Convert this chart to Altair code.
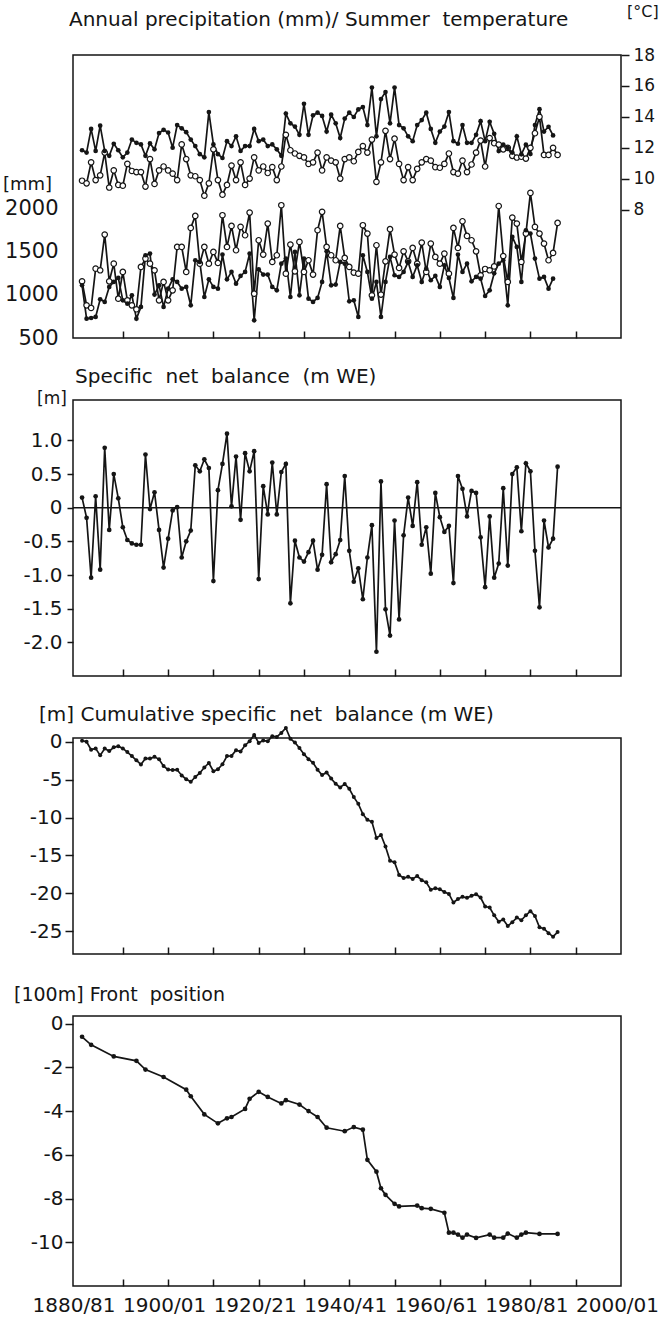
import altair as alt
import pandas as pd

FONT = "DejaVu Sans"
INK = "#151515"

years = list(range(1881, 1987))

# summer temperature (deg C), filled dots
temp_filled = [11.84, 11.69, 13.22, 11.80, 13.43, 11.80, 11.48, 12.26, 11.84, 11.38,
               11.69, 12.53, 12.32, 12.22, 11.48, 12.28, 11.90, 12.95, 13.16, 12.99,
               12.01, 13.47, 13.26, 13.01, 12.53, 12.11, 11.59, 11.38, 14.31, 12.22,
               11.59, 11.34, 12.43, 12.11, 12.74, 11.80, 12.11, 12.11, 13.22, 12.43,
               12.53, 12.11, 12.22, 11.90,
               11.48, 14.21, 13.58, 13.37, 12.84, 14.84, 12.84, 14.10, 14.27, 14.06,
               13.05, 14.14, 13.58, 12.63, 13.89, 14.27, 13.99, 14.48, 14.63, 13.47,
               15.90, 12.74, 15.15, 15.60, 13.58, 15.90, 13.47, 13.26, 12.74, 12.43,
               13.47, 13.79, 14.27, 13.22, 12.32, 13.05, 13.37, 14.31, 12.43, 12.26,
               13.47, 12.32, 12.32, 12.84, 13.72, 12.43, 13.68,
               12.90, 11.79, 12.21, 12.00, 11.69, 12.74, 11.58, 12.20, 11.60, 13.47,
               14.50, 13.05, 13.36, 12.80]

# summer temperature (deg C), open circles
temp_open = [9.87, 9.70, 11.06, 9.91, 10.22, 11.69, 9.43, 10.54, 9.60, 9.55,
             10.96, 10.50, 10.43, 10.43, 9.49, 11.27, 9.66, 10.54, 10.79, 10.54,
             10.33, 9.91, 12.22, 11.27, 10.22, 10.16, 9.91, 8.90, 9.70, 11.90,
             9.91, 8.97, 9.60, 10.85, 9.91, 11.06, 9.60, 10.01, 11.38, 10.54,
             10.79, 10.37, 10.75, 9.91,
             10.79, 12.84, 11.84, 11.63, 11.48, 11.38, 10.96, 11.06, 11.69, 10.54,
             11.38, 11.17, 11.06, 10.01, 11.27, 11.38, 11.13, 11.73, 12.11, 11.69,
             12.53, 9.80, 11.06, 13.10, 11.27, 12.59, 10.96, 9.91, 10.75, 9.91,
             10.64, 11.06, 11.27, 11.17, 10.75, 10.71, 10.96, 11.63, 10.43, 10.33,
             11.17, 10.43, 10.92, 11.69, 12.47, 10.79, 12.63,
             12.30, 12.21, 11.90, 12.00, 11.48, 11.37, 11.42, 11.30, 12.00, 12.94,
             14.00, 11.54, 11.54, 12.00, 11.54]

# annual precipitation (mm), open circles
precip_open = [1157, 879, 848, 1304, 1285, 1699, 1157, 1362, 956, 1266,
               937, 879, 833, 1324, 1420, 1362, 1285, 937, 1150, 937,
               1053, 1556, 1556, 1266, 1776, 1915, 1362, 1556, 1362, 1498,
               1370, 1923, 1556, 1799, 1517, 1788, 1691, 1954, 1014, 1633,
               1467,
               1826, 1382, 1459, 2039, 1246, 1583, 1273, 1614, 1266, 1401,
               1235, 1749, 1962, 1556, 1459, 1401, 1799, 1428, 1324, 1258,
               1246, 1807, 1710, 995, 1575, 1003, 1389, 1761, 1467, 1312,
               1505, 1389, 1544, 1362, 1606, 1266, 1595, 1440, 1362, 1478,
               1246, 1776, 1544, 1853, 1683, 1633, 1505, 1227, 1300, 1285,
               1330, 2030, 1450, 1150, 1896, 1826, 1382, 1710, 2182, 1788,
               1710, 1594, 1401, 1486, 1834]

# annual precipitation (mm), filled dots
precip_filled = [1111, 724, 732, 744, 949, 918, 1092, 1150, 1196, 937,
                 898, 995, 724, 860, 1459, 1478, 1003, 1111, 860, 1072,
                 1180, 1150, 1072, 1092, 879, 1401, 1382, 975, 1180, 1092,
                 1072, 1467, 1180, 1266, 1130, 1219, 1266, 1478, 705, 1297,
                 1235,
                 1235, 1092, 1053, 1362, 1420, 975, 1498, 995, 1420, 956,
                 918, 964, 1150, 1505, 1111, 1119, 1382, 1362, 925, 937,
                 744, 1459, 1266, 956, 1150, 744, 1150, 1440, 1227, 1208,
                 1266, 1382, 1208, 1343, 1150, 1304, 1169, 1219, 1092, 1343,
                 1196, 964, 1467, 1266, 1362, 1157, 1208, 1188, 987, 1053,
                 1250, 1362, 1400, 879, 1672, 1556, 1150, 1749, 1710, 1420,
                 1188, 1208, 1072, 1188]

# specific net balance (m WE)
net_balance = [0.15, -0.15, -1.04, 0.17, -0.92, 0.89, -0.33, 0.50, 0.14, -0.29,
               -0.48, -0.53, -0.55, -0.55, 0.79, -0.02, 0.23, -0.33, -0.89, -0.46,
               -0.04, 0.01, -0.74, -0.50, -0.34, 0.63, 0.54, 0.72, 0.59, -1.09,
               0.26, 0.65, 1.10, 0.02, 0.76, -0.18, 0.81, 0.54, 0.84, -1.06,
               0.32, -0.10, 0.67, -0.10, 0.53, 0.65, -1.42, -0.49, -0.74, -0.80,
               -0.66, -0.49, -0.92, -0.70, 0.35, -0.81, -0.69, -0.48, 0.47, -0.64,
               -1.10, -0.90, -1.36, -0.74, -0.26, -2.14, 0.39, -1.51, -1.90, -0.19,
               -1.66, -0.41, 0.15, -0.27, 0.38, -0.55, -0.29, -0.98, 0.22, -0.14,
               -0.36, -0.27, -1.12, 0.47, 0.28, -0.13, 0.25, 0.22, -0.44, -1.18,
               -0.13, -1.04, -0.83, 0.29, -0.86, 0.50, 0.60, -0.35, 0.66, 0.54,
               -0.64, -1.48, -0.19, -0.59, -0.46, 0.61]

# cumulative specific net balance (m WE)
cum_balance = [0.15, 0.00, -1.04, -0.87, -1.79, -0.90, -1.23, -0.73, -0.59, -0.88,
               -1.36, -1.89, -2.44, -2.99, -2.20, -2.22, -1.99, -2.32, -3.21, -3.67,
               -3.71, -3.70, -4.44, -4.94, -5.28, -4.65, -4.11, -3.39, -2.80, -3.89,
               -3.63, -2.98, -1.88, -1.86, -1.10, -1.28, -0.47, 0.07, 0.91, -0.15,
               0.17, 0.07, 0.74, 0.64, 1.17, 1.82, 0.40, -0.10, -0.83, -1.63,
               -2.29, -2.77, -3.69, -4.39, -4.04, -4.85, -5.54, -6.02, -5.56, -6.20,
               -7.30, -8.19, -9.55, -10.29, -10.55, -12.68, -12.29, -13.81, -15.71, -15.90,
               -17.56, -17.97, -17.82, -18.09, -17.71, -18.26, -18.54, -19.52, -19.31, -19.45,
               -19.81, -20.08, -21.21, -20.74, -20.46, -20.58, -20.33, -20.11, -20.55, -21.73,
               -21.86, -22.90, -23.73, -23.45, -24.31, -23.81, -23.20, -23.55, -22.89, -22.35,
               -22.99, -24.47, -24.66, -25.25, -25.71, -25.11]

# front position (100 m)
front_years = [1881, 1883, 1888, 1893, 1895, 1899, 1904, 1905, 1908, 1911,
               1913, 1914, 1917, 1918, 1920, 1922, 1925, 1926, 1929, 1931,
               1933, 1935, 1939, 1941, 1943, 1944, 1946, 1947, 1948, 1950,
               1951, 1955, 1956, 1958, 1961, 1962, 1963, 1964, 1965, 1966,
               1968, 1971, 1972, 1974, 1975, 1977, 1978, 1979, 1982, 1986]
front_pos = [-0.60, -0.97, -1.50, -1.70, -2.10, -2.44, -3.02, -3.32, -4.15, -4.56,
             -4.33, -4.27, -3.90, -3.44, -3.12, -3.35, -3.65, -3.50, -3.70, -4.00,
             -4.27, -4.76, -4.92, -4.73, -4.85, -6.23, -6.77, -7.53, -7.83, -8.24,
             -8.36, -8.32, -8.44, -8.47, -8.65, -9.56, -9.56, -9.65, -9.79, -9.65,
             -9.80, -9.65, -9.79, -9.79, -9.60, -9.79, -9.65, -9.56, -9.62, -9.62]

x_domain = [1879, 2000]
inner_ticks = list(range(1890, 2000, 10))
label_years = list(range(1880, 2001, 10))

W = 548
LW = 1.7


def frame(vals, yrs=None):
    yrs = yrs if yrs is not None else years[:len(vals)]
    return pd.DataFrame({"year": yrs, "value": vals})


def x_enc(with_labels=False):
    if with_labels:
        axis = alt.Axis(
            values=label_years, tickSize=7, offset=-7, domain=False, grid=False,
            tickColor=INK, tickWidth=1.5,
            tickOpacity={"condition": {"test": "datum.value == 1880 || datum.value == 2000", "value": 0}, "value": 1},
            labelExpr="datum.value % 20 == 0 ? datum.value + '/' + substring(toString(datum.value + 1), 2, 4) : ''",
            labelFont=FONT, labelFontSize=20, labelColor=INK, labelPadding=9,
            labelOffset=-4, labelFlush=False, labelOverlap=False, title=None)
    else:
        axis = alt.Axis(values=inner_ticks, tickSize=7, offset=-7, domain=False,
                        grid=False, labels=False, tickColor=INK, tickWidth=1.5,
                        title=None)
    return alt.X("year:Q", scale=alt.Scale(domain=x_domain, nice=False, zero=False),
                 axis=axis)


def label(txt, x, y, size=19, align="left"):
    return alt.Chart(pd.DataFrame({"t": [txt]})).mark_text(
        align=align, baseline="middle", font=FONT, fontSize=size, color=INK
    ).encode(text="t:N", x=alt.value(x), y=alt.value(y))


def line(df, y, xlab=False):
    return alt.Chart(df).mark_line(color=INK, strokeWidth=LW).encode(x=x_enc(xlab), y=y)


def dots(df, y, size=22, xlab=False):
    return alt.Chart(df).mark_circle(color=INK, size=size, opacity=1).encode(x=x_enc(xlab), y=y)


def rings(df, y, size=30, xlab=False):
    return alt.Chart(df).mark_point(shape="circle", filled=True, fill="white", stroke=INK,
                                     strokeWidth=1.2, size=size, opacity=1).encode(x=x_enc(xlab), y=y)


def signed(fmt):
    return "datum.value == 0 ? '0' : (datum.value < 0 ? '-' : '') + format(abs(datum.value), '%s')" % fmt


# ---------------- Panel 1 ----------------
y_prec = alt.Y("value:Q", scale=alt.Scale(domain=[500, 3780], nice=False, zero=False),
               axis=alt.Axis(orient="left", values=[500, 1000, 1500, 2000], ticks=False,
                             domain=False, grid=False, labelPadding=15, labelFont=FONT,
                             labelFontSize=21, labelColor=INK,
                             labelExpr="format(datum.value, 'd')", title=None))
y_temp = alt.Y("value:Q", scale=alt.Scale(domain=[-0.3, 18], nice=False, zero=False),
               axis=alt.Axis(orient="right", values=[8, 10, 12, 14, 16, 18], tickSize=8,
                             tickColor=INK, tickWidth=1.5, domain=False, grid=False,
                             labelPadding=4, labelFont=FONT, labelFontSize=17,
                             labelColor=INK, title=None))

po, pf = frame(precip_open), frame(precip_filled)
to, tf = frame(temp_open), frame(temp_filled)

prec_layer = alt.layer(line(po, y_prec), line(pf, y_prec), rings(po, y_prec), dots(pf, y_prec))
temp_layer = alt.layer(line(to, y_temp), line(tf, y_temp), rings(to, y_temp), dots(tf, y_temp))

p1 = alt.layer(
    prec_layer, temp_layer,
    label("Annual precipitation (mm)/ Summer\u00a0\u00a0temperature", -4, -35, size=20),
    label("[\u00b0C]", 554, -43, size=16),
    label("[mm]", -70, 130, size=18),
).resolve_scale(y="independent").properties(width=W, height=283)

# ---------------- Panel 2 ----------------
y_nb = alt.Y("value:Q", scale=alt.Scale(domain=[-2.5, 1.6], nice=False, zero=False),
             axis=alt.Axis(values=[-2.0, -1.5, -1.0, -0.5, 0, 0.5, 1.0], tickSize=6,
                           tickColor=INK, tickWidth=1.5, domain=False, grid=False,
                           labelPadding=5, labelFont=FONT, labelFontSize=20,
                           labelColor=INK, labelExpr=signed(".1f"), title=None))
nb = frame(net_balance)
zero = alt.Chart(pd.DataFrame({"value": [0.0]})).mark_rule(color=INK, strokeWidth=1.5).encode(y=y_nb)
p2 = alt.layer(
    zero, line(nb, y_nb), dots(nb, y_nb, size=22),
    label("Specific\u00a0\u00a0net\u00a0\u00a0balance\u00a0\u00a0(m WE)", 2, -23, size=20),
    label("[m]", -36, -1, size=17),
).properties(width=W, height=276)

# ---------------- Panel 3 ----------------
y_cum = alt.Y("value:Q", scale=alt.Scale(domain=[-28, 0.5], nice=False, zero=False),
              axis=alt.Axis(values=[0, -5, -10, -15, -20, -25], tickSize=8,
                            tickColor=INK, tickWidth=1.5, domain=False, grid=False,
                            labelPadding=3, labelFont=FONT, labelFontSize=20,
                            labelColor=INK, labelExpr=signed(".0f"), title=None))
cb = frame(cum_balance)
p3 = alt.layer(
    line(cb, y_cum), dots(cb, y_cum, size=16),
    label("[m] Cumulative specific\u00a0\u00a0net\u00a0\u00a0balance (m WE)", -34, -23, size=20),
).properties(width=W, height=216)

# ---------------- Panel 4 ----------------
y_fr = alt.Y("value:Q", scale=alt.Scale(domain=[-12, 0.35], nice=False, zero=False),
             axis=alt.Axis(values=[0, -2, -4, -6, -8, -10], tickSize=8,
                           tickColor=INK, tickWidth=1.5, domain=False, grid=False,
                           labelPadding=2, labelFont=FONT, labelFontSize=20,
                           labelColor=INK, labelExpr=signed(".0f"), title=None))
fr = frame(front_pos, front_years)
p4 = alt.layer(
    line(fr, y_fr, xlab=True), dots(fr, y_fr, size=22, xlab=True),
    label("[100m] Front\u00a0\u00a0position", -59, -21),
).properties(width=W, height=270)

chart = alt.vconcat(p1, p2, p3, p4, spacing=62, bounds="flush").properties(
    padding={"left": 2, "top": 3, "right": 0, "bottom": 0},
    background="white",
).configure_view(stroke=INK, strokeWidth=1.5)

chart.save("out.html", embed_options={"renderer": "svg", "actions": False})
